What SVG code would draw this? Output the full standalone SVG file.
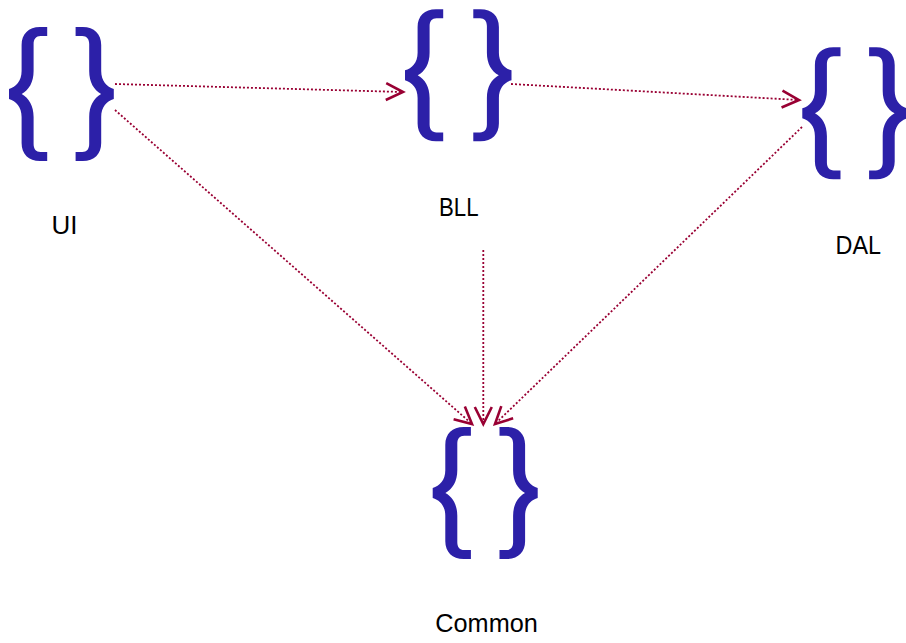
<svg xmlns="http://www.w3.org/2000/svg" width="906" height="643" viewBox="0 0 906 643">
<style>
.bg{fill:#fff}
.brace{fill:#2c20a8}
.lbl{font-family:"Liberation Sans",Arial,sans-serif;font-size:25px;fill:#000}
.conn{fill:none;stroke:#990033;stroke-width:1.8;stroke-dasharray:2 2}
.head{fill:none;stroke:#990033;stroke-width:2.6}
</style>
<defs>
<path id="lb" class="brace" d="M47.2 27H40C28.5 27 21.6 34 21.6 45V71C21.6 81 16 87 9 89V99C16 101 21.6 107 21.6 117V143C21.6 154 28.5 161 40 161H47.2V152H40.5C36 152 33.6 149 33.6 144V117C33.6 106 29 98 21.7 94C29 90 33.6 82 33.6 71V44C33.6 39 36 36 40.5 36H47.2Z"/>
<marker id="arrow" markerUnits="userSpaceOnUse" markerWidth="24" markerHeight="24" refX="19" refY="12" orient="auto" viewBox="0 0 24 24">
<path class="head" d="M2 3.5L19 12L2 20.5"/>
</marker>
</defs>
<rect class="bg" width="906" height="643"/>
<g id="connectors">
<line class="conn" x1="115" y1="84" x2="403" y2="92" marker-end="url(#arrow)"/>
<line class="conn" x1="511" y1="84" x2="799" y2="100" marker-end="url(#arrow)"/>
<line class="conn" x1="115" y1="110" x2="472" y2="424" marker-end="url(#arrow)"/>
<line class="conn" x1="483.3" y1="250" x2="483.3" y2="424" marker-end="url(#arrow)"/>
<line class="conn" x1="802" y1="127" x2="495" y2="424" marker-end="url(#arrow)"/>
</g>
<g id="node-ui">
<use href="#lb"/>
<use href="#lb" transform="matrix(-1 0 0 1 122.8 0)"/>
<text class="lbl" x="51.5" y="234" textLength="26" lengthAdjust="spacingAndGlyphs">UI</text>
</g>
<g id="node-bll">
<use href="#lb" transform="matrix(1 0 0 .985 396 -17.3)"/>
<use href="#lb" transform="matrix(-1 0 0 .985 520.5 -17.3)"/>
<text class="lbl" x="439" y="216" textLength="39.5" lengthAdjust="spacingAndGlyphs">BLL</text>
</g>
<g id="node-dal">
<use href="#lb" transform="matrix(1 0 0 .985 793.3 20.7)"/>
<use href="#lb" transform="matrix(-1 0 0 .985 916.3 20.7)"/>
<text class="lbl" x="835.5" y="254" textLength="45.5" lengthAdjust="spacingAndGlyphs">DAL</text>
</g>
<g id="node-common">
<use href="#lb" transform="matrix(1 0 0 .985 423.7 400.4)"/>
<use href="#lb" transform="matrix(-1 0 0 .985 546.7 400.4)"/>
<text class="lbl" x="435.3" y="632" textLength="102.5" lengthAdjust="spacingAndGlyphs">Common</text>
</g>
</svg>
